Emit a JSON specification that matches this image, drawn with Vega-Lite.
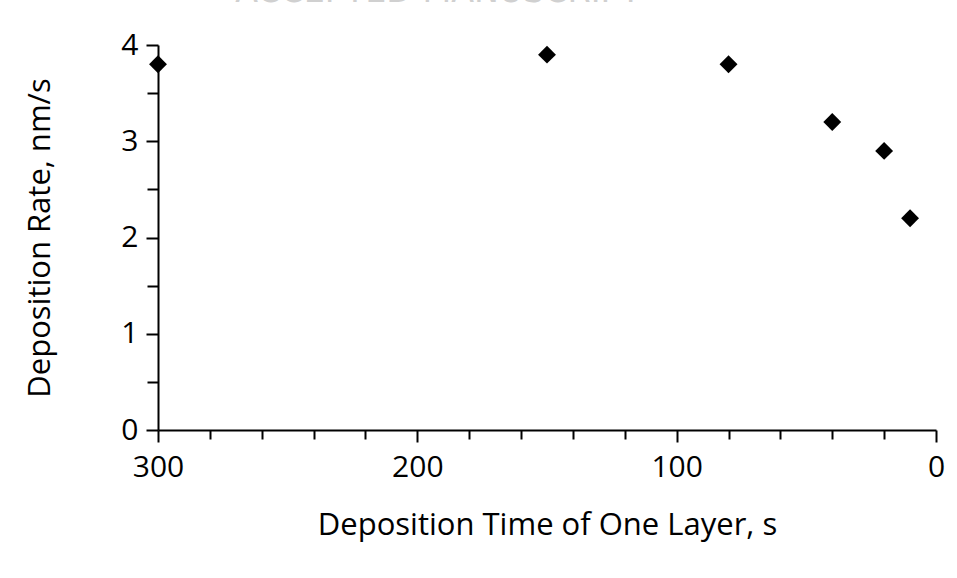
{
  "$schema": "https://vega.github.io/schema/vega-lite/v6.json",
  "width": 778,
  "height": 385,
  "autosize": "none",
  "padding": {"left": 158, "top": 45, "right": 21, "bottom": 148},
  "background": "white",
  "title": {"text": "ACCEPTED MANUSCRIPT", "font": "DejaVu Sans Condensed", "fontSize": 37, "fontWeight": "normal", "color": "#d0d0d0", "anchor": "middle", "baseline": "bottom", "offset": -17, "dx": -109},
  "config": {
    "view": {"stroke": null},
    "font": "Open Sans",
    "axis": {"grid": false, "domainColor": "black", "tickColor": "black", "labelColor": "black", "titleColor": "black", "domainWidth": 2, "tickWidth": 2, "labelFont": "Open Sans", "titleFont": "Open Sans", "labelFontSize": 30, "titleFontSize": 31, "titleFontWeight": "normal", "labelFlush": false}
  },
  "data": {"values": [
    {"time": 300, "rate": 3.8},
    {"time": 150, "rate": 3.9},
    {"time": 80, "rate": 3.8},
    {"time": 40, "rate": 3.2},
    {"time": 20, "rate": 2.9},
    {"time": 10, "rate": 2.2}
  ]},
  "layer": [
    {
      "mark": {"type": "point", "opacity": 0},
      "encoding": {
        "x": {"field": "time", "type": "quantitative", "scale": {"domain": [0, 300], "reverse": true, "nice": false},
              "axis": {"orient": "bottom", "values": [20, 40, 60, 80, 120, 140, 160, 180, 220, 240, 260, 280], "labels": false, "title": null, "tickSize": 9, "domain": false}},
        "y": {"field": "rate", "type": "quantitative", "scale": {"domain": [0, 4], "nice": false},
              "axis": {"orient": "left", "values": [0.5, 1.5, 2.5, 3.5], "labels": false, "title": null, "tickSize": 11, "domain": false}}
      }
    },
    {
      "mark": {"type": "point", "shape": "diamond", "filled": true, "color": "black", "size": 320, "opacity": 1},
      "encoding": {
        "x": {"field": "time", "type": "quantitative", "scale": {"domain": [0, 300], "reverse": true, "nice": false},
              "axis": {"orient": "bottom", "values": [0, 100, 200, 300], "title": "Deposition Time of One Layer, s", "tickSize": 12, "labelPadding": 10, "titlePadding": 28}},
        "y": {"field": "rate", "type": "quantitative", "scale": {"domain": [0, 4], "nice": false},
              "axis": {"orient": "left", "values": [0, 1, 2, 3, 4], "title": "Deposition Rate, nm/s", "tickSize": 12, "labelPadding": 8, "titlePadding": 64}}
      }
    }
  ],
  "resolve": {"axis": {"x": "independent", "y": "independent"}}
}
